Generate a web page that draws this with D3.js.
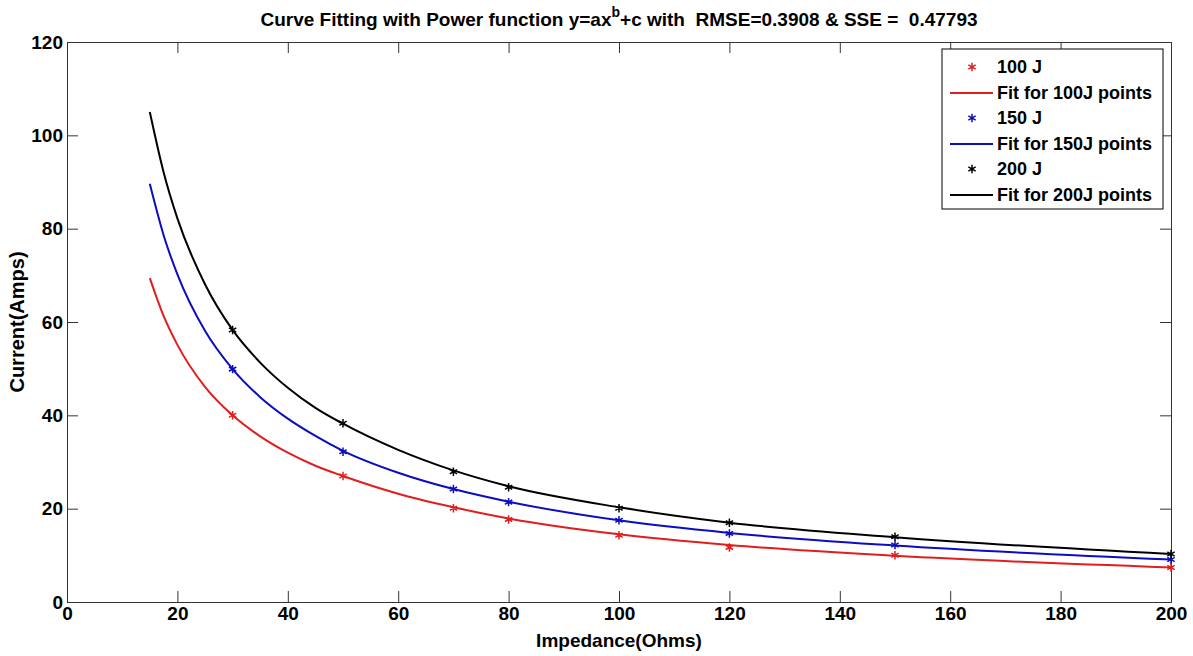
<!DOCTYPE html>
<html>
<head>
<meta charset="utf-8">
<script src="https://cdn.jsdelivr.net/npm/d3@7"></script>
<style>
  body { margin: 0; background: #fff; }
  text { font-family: "Liberation Sans", Arial, sans-serif; font-weight: bold; fill: #000; }
</style>
</head>
<body>
<svg id="fitChart" width="1193" height="656"></svg>
<script>
// measured points
var impedance = [30, 50, 70, 80, 100, 120, 150, 200];
var current100 = [40.0, 27.0, 20.1, 17.7, 14.3, 11.7, 10.0, 7.4];
var current150 = [49.9, 32.2, 24.2, 21.4, 17.5, 14.7, 12.2, 9.1];
var current200 = [58.3, 38.3, 27.9, 24.6, 20.1, 17.0, 14.0, 10.3];

// fitted curves
var fitImpedance = [15, 17.5, 20, 25, 30, 35, 40, 45, 50, 60, 70, 80, 100, 120, 150, 200];
var fit100 = [69.4, 61.3, 55.1, 46.1, 40.0, 35.5, 32.0, 29.2, 27.0, 23.2, 20.3, 17.9, 14.5, 12.2, 9.9, 7.4];
var fit150 = [89.6, 78.6, 70.2, 58.1, 49.9, 43.9, 39.3, 35.6, 32.4, 27.7, 24.2, 21.5, 17.5, 14.8, 12.1, 9.1];
var fit200 = [105.0, 92.1, 82.2, 68.1, 58.3, 51.3, 45.9, 41.6, 38.2, 32.6, 28.2, 24.8, 20.3, 17.0, 13.9, 10.3];

var xTicks = [0, 20, 40, 60, 80, 100, 120, 140, 160, 180, 200];
var yTicks = [0, 20, 40, 60, 80, 100, 120];

var seriesNames = ["100 J", "150 J", "200 J"];
var fitNames = ["Fit for 100J points", "Fit for 150J points", "Fit for 200J points"];
var seriesColors = ["#e01e1e", "#0c0cc0", "#000000"];

(function FitChart() {
    var svg = d3.select("#fitChart"),
        margin = {top: 42, right: 22, bottom: 54, left: 67},
        width = +svg.attr("width") - margin.left - margin.right,
        height = +svg.attr("height") - margin.top - margin.bottom;

    var g = svg.append("g")
               .attr("transform", "translate(" + margin.left + "," + margin.top + ")");

    var x = d3.scaleLinear().domain([0, 200]).range([0, width]);
    var y = d3.scaleLinear().domain([0, 120]).range([height, 0]);

    var pointSets = [current100, current150, current200];
    var fitSets = [fit100, fit150, fit200];

    // box + mirrored inward ticks, matlab style
    g.append("g")
     .attr("class", "axis")
     .attr("transform", "translate(0," + height + ")")
     .call(d3.axisBottom(x).tickValues(xTicks).tickSize(-11).tickPadding(5).tickFormat(d3.format("d")));
    g.append("g")
     .attr("class", "axis")
     .call(d3.axisTop(x).tickValues(xTicks).tickSize(-11).tickFormat(""));
    g.append("g")
     .attr("class", "axis")
     .call(d3.axisLeft(y).tickValues(yTicks).tickSize(-11).tickPadding(4).tickFormat(d3.format("d")));
    g.append("g")
     .attr("class", "axis")
     .attr("transform", "translate(" + width + ",0)")
     .call(d3.axisRight(y).tickValues(yTicks).tickSize(-11).tickFormat(""));

    g.selectAll(".axis path").attr("stroke", "#333");
    g.selectAll(".axis line").attr("stroke", "#333");
    g.selectAll(".axis text")
     .attr("font-weight", "bold")
     .style("font-size", "19px")
     .attr("fill", "#000");

    var line = d3.line()
                 .x(function(d) { return x(d[0]); })
                 .y(function(d) { return y(d[1]); })
                 .curve(d3.curveMonotoneX);

    var asterisk = d3.symbol().type(d3.symbolAsterisk).size(50);

    fitSets.forEach(function(fit, i) {
        g.append("path")
         .datum(fitImpedance.map(function(v, j) { return [v, fit[j]]; }))
         .attr("fill", "none")
         .attr("stroke", seriesColors[i])
         .attr("stroke-width", 2)
         .attr("d", line);

        g.selectAll(".pt" + i)
         .data(impedance.map(function(v, j) { return [v, pointSets[i][j]]; }))
         .enter().append("path")
         .attr("class", "pt" + i)
         .attr("transform", function(d) { return "translate(" + x(d[0]) + "," + y(d[1]) + ")"; })
         .attr("d", asterisk)
         .attr("fill", "none")
         .attr("stroke", seriesColors[i])
         .attr("stroke-width", 1.5);
    });

    // legend
    var legend = svg.append("g")
                    .attr("transform", "translate(942,49)");
    legend.append("rect")
          .attr("width", 221)
          .attr("height", 160)
          .attr("fill", "#fff")
          .attr("stroke", "#000");

    seriesNames.forEach(function(name, i) {
        var row = legend.append("g")
                        .attr("transform", "translate(0," + (18 + i * 51) + ")");
        row.append("path")
           .attr("transform", "translate(30,0)")
           .attr("d", asterisk)
           .attr("fill", "none")
           .attr("stroke", seriesColors[i])
           .attr("stroke-width", 1.5);
        row.append("text")
           .attr("x", 55)
           .attr("dy", "0.35em")
           .style("font-size", "18px")
           .text(name);
        row.append("line")
           .attr("x1", 8).attr("x2", 51)
           .attr("y1", 26).attr("y2", 26)
           .attr("stroke", seriesColors[i])
           .attr("stroke-width", 2);
        row.append("text")
           .attr("x", 55)
           .attr("y", 26)
           .attr("dy", "0.35em")
           .style("font-size", "18px")
           .text(fitNames[i]);
    });

    // title with superscript b
    var title = svg.append("text")
                   .attr("x", margin.left + width / 2)
                   .attr("y", 26)
                   .attr("text-anchor", "middle")
                   .style("font-size", "19px");
    title.append("tspan").text("Curve Fitting with Power function y=ax");
    title.append("tspan").attr("dy", -9).style("font-size", "14px").text("b");
    title.append("tspan").attr("dy", 9).text("+c with\u00a0\u00a0RMSE=0.3908 & SSE =\u00a0\u00a00.47793");

    svg.append("text")
       .attr("x", margin.left + width / 2)
       .attr("y", 647)
       .attr("text-anchor", "middle")
       .style("font-size", "19px")
       .text("Impedance(Ohms)");

    svg.append("text")
       .attr("transform", "translate(24," + (margin.top + height / 2) + ") rotate(-90)")
       .attr("text-anchor", "middle")
       .style("font-size", "20px")
       .text("Current(Amps)");
}());
</script>
</body>
</html>
